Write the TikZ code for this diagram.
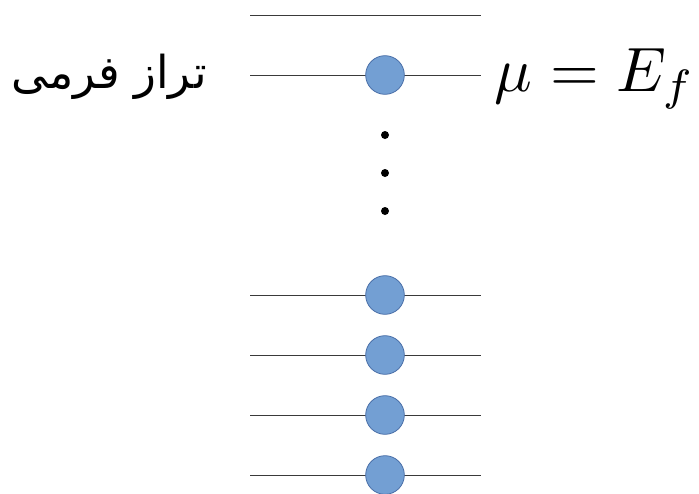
\documentclass[tikz,border=0pt]{standalone}
\usepackage{fontspec}
\newfontfamily\arabicfont[Script=Arabic]{DejaVu Sans}
\TeXXeTstate=1

\definecolor{lvlBlue}{HTML}{739FD3}
\definecolor{lvlEdge}{HTML}{4A6FA8}
\definecolor{lvlLine}{HTML}{3A3A3A}

\begin{document}
\begin{tikzpicture}[x=0.75pt,y=-0.75pt]
  \useasboundingbox (0,0) rectangle (699,493);
  \tikzset{
    electron/.style={circle,draw=lvlEdge,fill=lvlBlue,line width=0.6pt,inner sep=0pt,minimum size=29pt},
    level/.style={lvlLine,line width=0.75pt}
  }

  % energy levels
  \foreach \yy/\nm in {15/top,75/fermi,295/lvla,355/lvlb,415/lvlc,475/lvld} {
    \coordinate (\nm-l) at (250,\yy);
    \coordinate (\nm-r) at (481,\yy);
    \draw[level] (\nm-l) -- (\nm-r);
  }

  % occupied states
  \foreach \nm in {fermi,lvla,lvlb,lvlc,lvld} {
    \node[electron] (\nm-e) at (385,0 |- \nm-l) {};
  }

  % dots
  \foreach \yy in {135,173,211} {
    \fill (385,\yy) circle (3pt);
  }

  \node (ferminame) at (109,77) {\arabicfont\fontsize{34}{40}\selectfont\beginR تراز فرمی\endR};
  \node[scale=4.7] (muef) at (595,79) {$\mu = E_f$};
\end{tikzpicture}
\end{document}
